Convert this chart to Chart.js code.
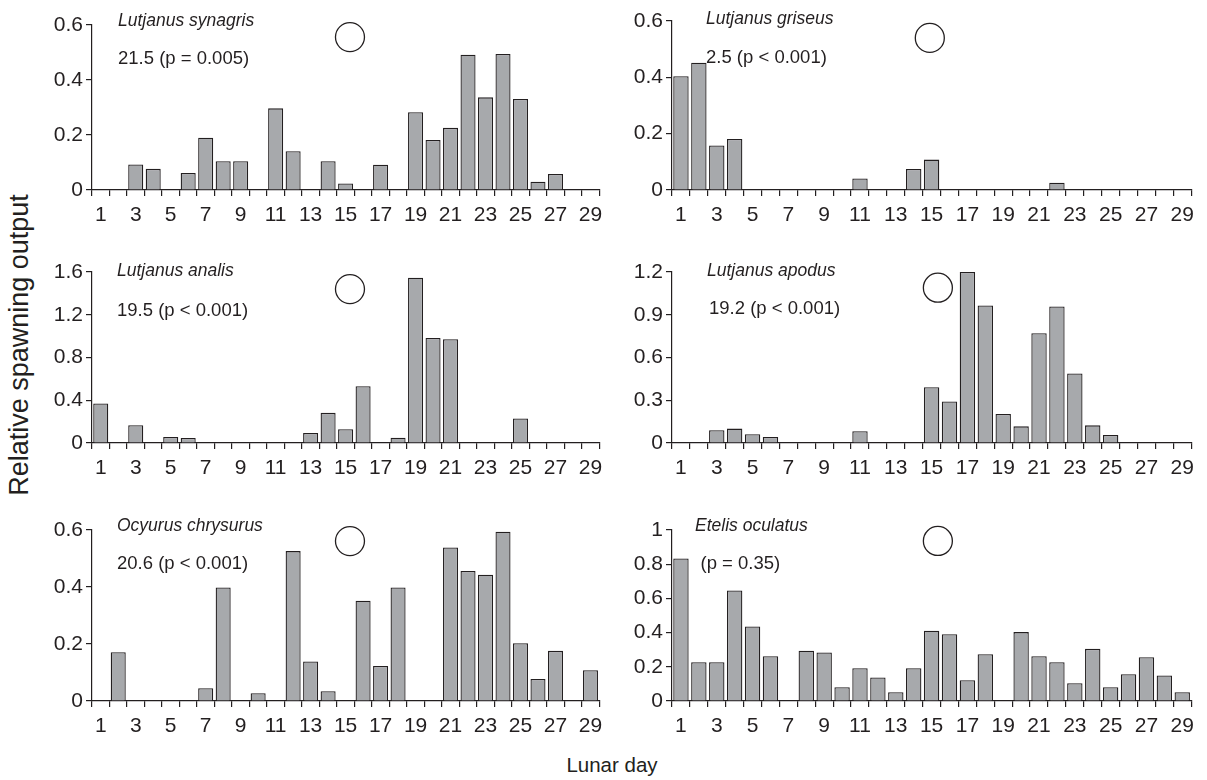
<!DOCTYPE html>
<html lang="en">
<head>
    <meta charset="UTF-8">
    <title>Relative spawning output by lunar day</title>
    <script src="https://cdn.jsdelivr.net/npm/chart.js"></script>
    <style>
        body {
            margin: 0;
            background: #fff;
            font-family: 'Liberation Sans', Arial, sans-serif;
        }

        #wrap {
            position: relative;
            width: 1207px;
            height: 780px;
            overflow: hidden;
        }

        #wrap canvas {
            position: absolute;
        }

        .ytitle {
            position: absolute;
            left: 19px;
            top: 345px;
            transform: translate(-50%, -50%) rotate(-90deg);
            font-size: 27px;
            white-space: nowrap;
            color: #231f20;
        }

        .xtitle {
            position: absolute;
            left: 612px;
            top: 765px;
            transform: translate(-50%, -50%);
            font-size: 20.5px;
            color: #231f20;
        }
    </style>
</head>
<body>
    <div id="wrap">
        <div class="ytitle">Relative spawning output</div>
        <div class="xtitle">Lunar day</div>
    </div>

    <script>
        // lunar days 1..29
        const dayLabels = ['1', '2', '3', '4', '5', '6', '7', '8', '9', '10', '11', '12', '13', '14', '15',
            '16', '17', '18', '19', '20', '21', '22', '23', '24', '25', '26', '27', '28', '29'];

        // relative spawning output per lunar day (0 = no bar)
        const synagris = [0, 0, 0.093, 0.077, 0, 0.062, 0.19, 0.105, 0.105, 0, 0.297, 0.141, 0, 0.105, 0.024,
            0, 0.092, 0, 0.283, 0.182, 0.226, 0.492, 0.337, 0.495, 0.331, 0.03, 0.058, 0, 0];
        const griseus = [0.404, 0.452, 0.158, 0.181, 0, 0, 0, 0, 0, 0, 0.041, 0, 0, 0.075, 0.108,
            0, 0, 0, 0, 0, 0, 0.026, 0, 0, 0, 0, 0, 0, 0];
        const analis = [0.369, 0, 0.166, 0, 0.056, 0.047, 0, 0, 0, 0, 0, 0, 0.094, 0.282, 0.128,
            0.532, 0, 0.05, 1.547, 0.983, 0.971, 0, 0, 0, 0.229, 0, 0, 0, 0];
        const apodus = [0, 0, 0.089, 0.101, 0.061, 0.042, 0, 0, 0, 0, 0.082, 0, 0, 0, 0.392,
            0.291, 1.2, 0.965, 0.204, 0.117, 0.77, 0.958, 0.488, 0.124, 0.056, 0, 0, 0, 0];
        const chrysurus = [0, 0.171, 0, 0, 0, 0, 0.045, 0.398, 0, 0.027, 0, 0.526, 0.139, 0.034, 0,
            0.352, 0.123, 0.398, 0, 0, 0.539, 0.456, 0.443, 0.594, 0.203, 0.077, 0.176, 0, 0.108];
        const oculatus = [0.834, 0.227, 0.227, 0.646, 0.436, 0.262, 0, 0.294, 0.284, 0.08, 0.192, 0.137, 0.051, 0.192, 0.411,
            0.391, 0.121, 0.274, 0, 0.403, 0.262, 0.227, 0.104, 0.305, 0.08, 0.157, 0.256, 0.149, 0.051];

        const series = [synagris, griseus, analis, apodus, chrysurus, oculatus];
        const speciesNames = ['Lutjanus synagris', 'Lutjanus griseus', 'Lutjanus analis',
            'Lutjanus apodus', 'Ocyurus chrysurus', 'Etelis oculatus'];
        const statTexts = ['21.5 (p = 0.005)', '2.5 (p < 0.001)', '19.5 (p < 0.001)',
            '19.2 (p < 0.001)', '20.6 (p < 0.001)', '(p = 0.35)'];
        const yMax = [0.6, 0.6, 1.6, 1.2, 0.6, 1];
        const yStep = [0.2, 0.2, 0.4, 0.3, 0.2, 0.2];

        // full moon marker (lunar day, height in axis units)
        const moonDay = [15.25, 14.9, 15.25, 15.35, 15.25, 15.35];
        const moonLevel = [0.556, 0.54, 1.44, 1.09, 0.561, 0.936];

        // plot area boxes on the page, plus text offsets from the plot's top-left corner
        const panels = [
            { left: 92, right: 607, top: 25, bottom: 190, nameDx: 26, nameDy: 0.5, statDx: 26, statDy: 39 },
            { left: 672, right: 1199, top: 21, bottom: 190, nameDx: 34, nameDy: 3, statDx: 34, statDy: 42 },
            { left: 92, right: 607, top: 272, bottom: 443, nameDx: 25, nameDy: 4, statDx: 25, statDy: 44 },
            { left: 672, right: 1199, top: 272, bottom: 443, nameDx: 35, nameDy: 4, statDx: 37, statDy: 42 },
            { left: 92, right: 607, top: 530, bottom: 701, nameDx: 25, nameDy: 1, statDx: 25, statDy: 39 },
            { left: 672, right: 1199, top: 530, bottom: 701, nameDx: 23, nameDy: 1, statDx: 28.5, statDy: 39 }
        ];

        const ink = '#231f20';
        const FONT = "'Liberation Sans', Arial, sans-serif";
        const Y_W = 50, X_H = 42, PAD_TOP = 25, PAD_RIGHT = 8;

        // species name and statistic inside each panel
        const panelText = {
            id: 'panelText',
            afterDraw(chart, args, opts) {
                const i = opts.index;
                const box = panels[i];
                const area = chart.chartArea;
                const ctx = chart.ctx;
                ctx.save();
                ctx.fillStyle = ink;
                ctx.textBaseline = 'alphabetic';
                ctx.textAlign = 'left';
                ctx.font = 'italic 17.5px ' + FONT;
                ctx.fillText(speciesNames[i], area.left + box.nameDx, area.top + box.nameDy);
                ctx.font = '18.5px ' + FONT;
                ctx.fillText(statTexts[i], area.left + box.statDx, area.top + box.statDy);
                ctx.restore();
            }
        };

        function makePanel(i) {
            const box = panels[i];
            const canvas = document.createElement('canvas');
            canvas.width = Y_W + (box.right - box.left) + PAD_RIGHT;
            canvas.height = PAD_TOP + (box.bottom - box.top) + X_H;
            canvas.style.left = (box.left - Y_W) + 'px';
            canvas.style.top = (box.top - PAD_TOP) + 'px';
            document.getElementById('wrap').appendChild(canvas);

            new Chart(canvas, {
                type: 'bar',
                data: {
                    labels: dayLabels,
                    datasets: [
                        {
                            type: 'scatter',
                            data: [{ x: moonDay[i], y: moonLevel[i] }],
                            xAxisID: 'xm',
                            yAxisID: 'y',
                            pointRadius: 14.5,
                            pointBackgroundColor: '#fff',
                            pointBorderColor: ink,
                            pointBorderWidth: 1.3,
                            clip: false
                        },
                        {
                            data: series[i].map(v => v > 0 ? v : null),
                            backgroundColor: '#a7a9ac',
                            borderColor: ink,
                            borderWidth: 1.3,
                            grouped: false,
                            barPercentage: 0.86,
                            categoryPercentage: 1
                        }
                    ]
                },
                options: {
                    responsive: false,
                    animation: false,
                    layout: { padding: { top: PAD_TOP, right: PAD_RIGHT, left: 0, bottom: 0 } },
                    plugins: {
                        legend: { display: false },
                        tooltip: { enabled: false },
                        panelText: { index: i }
                    },
                    scales: {
                        x: {
                            type: 'category',
                            offset: true,
                            grid: { offset: true, drawOnChartArea: false, color: ink, tickLength: 6, lineWidth: 1.2 },
                            border: { color: ink, width: 1.2 },
                            ticks: {
                                autoSkip: false,
                                maxRotation: 0,
                                padding: 7,
                                color: ink,
                                font: { size: 21, family: FONT },
                                callback: (v, idx) => idx % 2 === 0 ? dayLabels[idx] : ''
                            },
                            afterFit: s => { s.height = X_H; }
                        },
                        xm: { type: 'linear', display: false, min: 0.5, max: 29.5, offset: false },
                        y: {
                            min: 0,
                            max: yMax[i],
                            grid: { drawOnChartArea: false, color: ink, tickLength: 6, lineWidth: 1.2 },
                            border: { color: ink, width: 1.2 },
                            ticks: {
                                stepSize: yStep[i],
                                padding: 3,
                                color: ink,
                                font: { size: 21, family: FONT },
                                callback: v => String(+v.toFixed(1))
                            },
                            afterFit: s => { s.width = Y_W; }
                        }
                    }
                },
                plugins: [panelText]
            });
        }

        for (let i = 0; i < panels.length; i++) {
            makePanel(i);
        }
    </script>
</body>
</html>
